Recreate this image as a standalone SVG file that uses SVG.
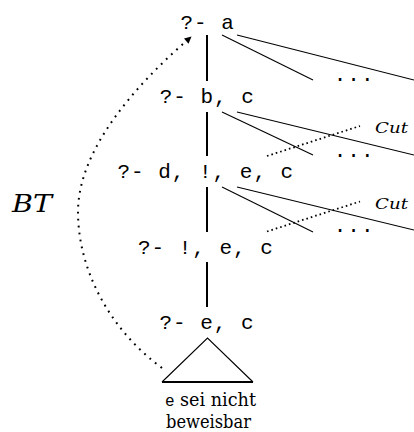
<svg xmlns="http://www.w3.org/2000/svg" width="414" height="432" viewBox="0 0 414 432">
<defs>
<style>
.tt{font-family:'Liberation Mono','Courier New',monospace;font-size:21px;letter-spacing:1px;fill:#000}
.rm{font-family:'DejaVu Serif','Liberation Serif',serif;font-size:18px;fill:#000}
.it{font-family:'DejaVu Serif','Liberation Serif',serif;font-style:italic;font-weight:normal;fill:#000}
.solid{stroke:#000;stroke-width:2;fill:none}
.thin{stroke:#000;stroke-width:1.1;fill:none}
.cut{stroke:#000;stroke-width:1.8;stroke-dasharray:1.6 3;fill:none}
.bt{stroke:#000;stroke-width:2;stroke-dasharray:1.8 5.2;fill:none}
</style>
<marker id="ah" viewBox="0 0 10 10" refX="9" refY="5" markerWidth="8" markerHeight="7" markerUnits="userSpaceOnUse" orient="auto">
<path d="M0,0 L10,5 L0,10 z" fill="#000"/>
</marker>
</defs>
<rect width="414" height="432" fill="#fff"/>
<g id="connectors">
<line class="solid" x1="207" y1="35" x2="207" y2="81"/>
<line class="solid" x1="207" y1="112" x2="207" y2="156"/>
<line class="solid" x1="207" y1="187" x2="207" y2="232"/>
<line class="solid" x1="207" y1="262" x2="207" y2="307"/>
<line class="thin" x1="222" y1="35" x2="313" y2="80"/>
<line class="thin" x1="237" y1="35" x2="414" y2="80"/>
<line class="thin" x1="222" y1="112" x2="313" y2="155"/>
<line class="thin" x1="237" y1="112" x2="414" y2="155"/>
<line class="thin" x1="222" y1="187" x2="313" y2="232"/>
<line class="thin" x1="237" y1="187" x2="414" y2="230"/>
<line class="cut" x1="267" y1="156" x2="360" y2="126"/>
<line class="cut" x1="267" y1="231.5" x2="360" y2="201.5"/>
<path class="bt" d="M162,368 C110,330 78,270 78,212 C78,150 135,85 191,37" marker-end="url(#ah)"/>
</g>
<g id="n_a"><text class="tt" x="180.4" y="28.5">?- a</text></g>
<g id="n_bc"><text class="tt" x="159.7" y="102.5">?- b, c</text></g>
<g id="n_d"><text class="tt" x="117.4" y="178">?- d, !, e, c</text></g>
<g id="n_cut_ec"><text class="tt" x="137.9" y="254">?- !, e, c</text></g>
<g id="n_ec"><text class="tt" x="159.4" y="329">?- e, c</text></g>
<g id="dots1"><text class="tt" x="333.7" y="81">...</text></g>
<g id="dots2"><text class="tt" x="333.7" y="156.5">...</text></g>
<g id="dots3"><text class="tt" x="333.7" y="231.5">...</text></g>
<g id="cut1"><text class="it" x="375" y="133" font-size="14" textLength="33" lengthAdjust="spacingAndGlyphs">Cut</text></g>
<g id="cut2"><text class="it" x="375" y="208.5" font-size="14" textLength="33" lengthAdjust="spacingAndGlyphs">Cut</text></g>
<g id="bt_label"><text class="it" x="12" y="211.5" font-size="24" textLength="40" lengthAdjust="spacingAndGlyphs">BT</text></g>
<g id="subtree">
<path d="M162,382 L207.5,338 L253,382" class="thin"/>
<line x1="162" y1="382" x2="253" y2="382" stroke="#000" stroke-width="2"/>
<text x="165" y="405.5" font-family="'Liberation Mono','Courier New',monospace" font-size="16" fill="#000">e</text>
<text class="rm" x="256" y="405.5" text-anchor="end" textLength="76" lengthAdjust="spacingAndGlyphs">sei nicht</text>
<text class="rm" x="208.5" y="427.5" text-anchor="middle" textLength="85" lengthAdjust="spacingAndGlyphs">beweisbar</text>
</g>
</svg>
